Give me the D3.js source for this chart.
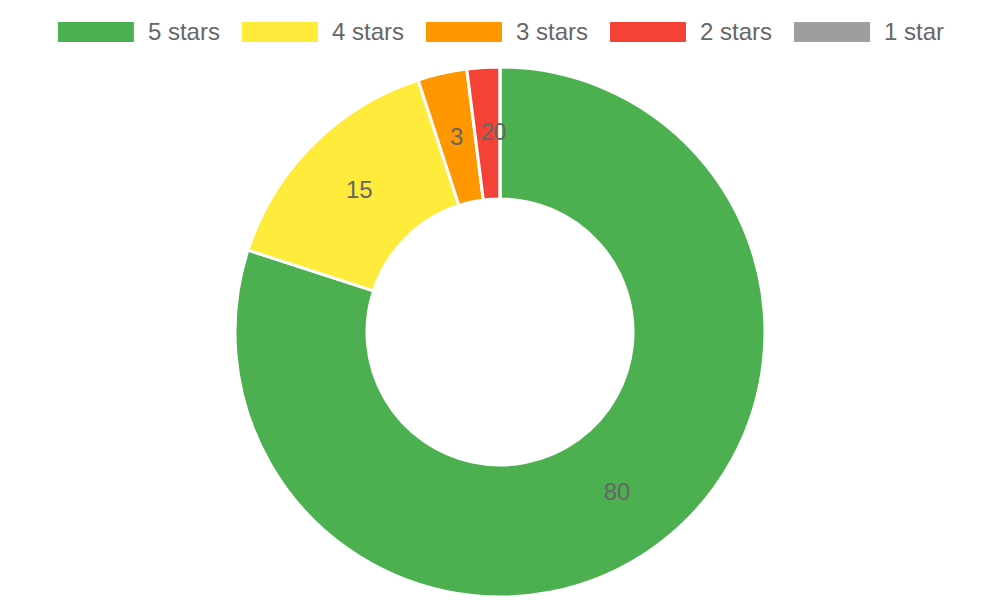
<!DOCTYPE html>
<html>
<head>
<meta charset="utf-8">
<script src="https://cdn.jsdelivr.net/npm/d3@7"></script>
<style>
  html, body { margin: 0; padding: 0; background: #fff; }
  svg { display: block; font-family: "Liberation Sans", Arial, sans-serif; }
</style>
</head>
<body>
<svg id="chart" width="1000" height="600"></svg>
<script>
// rating categories and counts
var labels = ["5 stars", "4 stars", "3 stars", "2 stars", "1 star"];
var values = [80, 15, 3, 2, 0];
var colors = ["#4caf50", "#ffeb3b", "#ff9800", "#f44336", "#9e9e9e"];

var width = 1000, height = 600;
var cx = 500, cy = 332;
var outerR = 265, innerR = 133;

var svg = d3.select("#chart");

var data = labels.map(function (d, i) {
    return {label: d, value: values[i], color: colors[i]};
});

// legend across the top, centred
var legend = svg.append("g").attr("class", "legend");
var items = legend.selectAll("g")
    .data(data)
    .enter()
    .append("g");

items.append("rect")
    .attr("width", 76)
    .attr("height", 20)
    .attr("fill", function (d) { return d.color; });

items.append("text")
    .attr("x", 90)
    .attr("y", 10)
    .attr("dy", "0.35em")
    .attr("fill", "#666")
    .style("font-size", "24px")
    .text(function (d) { return d.label; });

var widths = [];
items.each(function () {
    widths.push(90 + d3.select(this).select("text").node().getComputedTextLength());
});
var gap = 22;
var total = d3.sum(widths) + gap * (widths.length - 1);
var x0 = (width - total) / 2 + 1;
items.attr("transform", function (d, i) {
    var x = x0 + d3.sum(widths.slice(0, i)) + gap * i;
    return "translate(" + x + ",22)";
});

// doughnut
var pie = d3.pie()
    .value(function (d) { return d.value; })
    .sort(null);

var arc = d3.arc()
    .innerRadius(innerR)
    .outerRadius(outerR);

var labelArc = d3.arc()
    .innerRadius((innerR + outerR) / 2)
    .outerRadius((innerR + outerR) / 2);

var arcs = pie(data);

var g = svg.append("g")
    .attr("transform", "translate(" + cx + "," + cy + ")");

g.selectAll("path")
    .data(arcs)
    .enter()
    .append("path")
    .attr("d", arc)
    .attr("fill", function (d) { return d.data.color; })
    .attr("stroke", "#fff")
    .attr("stroke-width", 3);

g.selectAll("text.val")
    .data(arcs)
    .enter()
    .append("text")
    .attr("class", "val")
    .attr("transform", function (d) { return "translate(" + labelArc.centroid(d) + ")"; })
    .attr("text-anchor", "middle")
    .attr("dy", "0.28em")
    .attr("fill", "#666")
    .style("font-size", "24px")
    .text(function (d) { return d.data.value; });
</script>
</body>
</html>
